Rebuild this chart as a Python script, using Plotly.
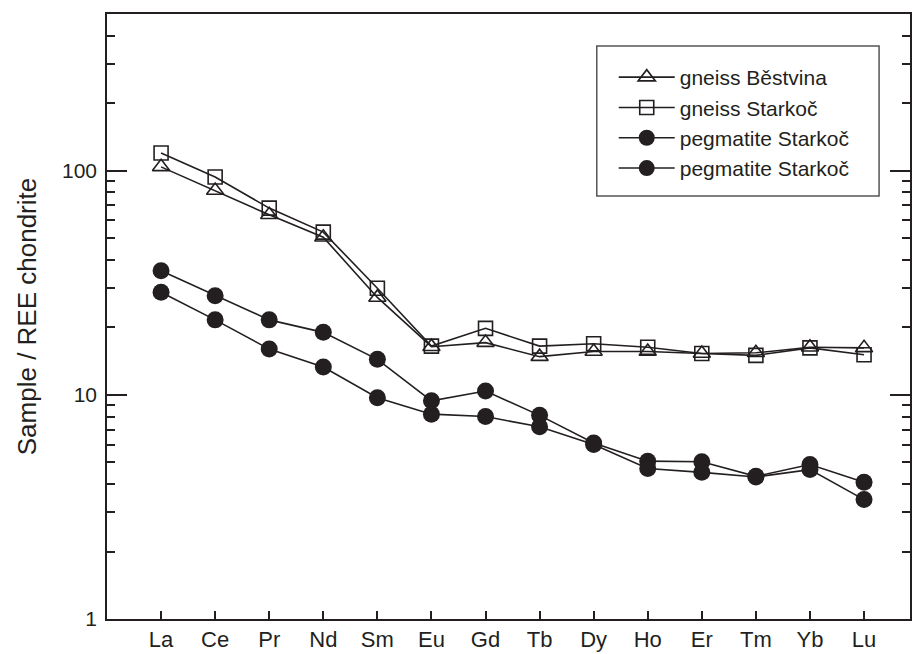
import plotly.graph_objects as go

elements = ["La", "Ce", "Pr", "Nd", "Sm", "Eu", "Gd", "Tb", "Dy", "Ho", "Er", "Tm", "Yb", "Lu"]

gneiss_bestvina = [104, 81.6, 63.6, 50.5, 27.2, 16.4, 17.1, 14.8, 15.6, 15.6, 15.3, 15.4, 16.3, 16.2]
gneiss_starkoc = [120, 93.7, 68.1, 53.2, 29.9, 16.5, 19.8, 16.5, 16.9, 16.3, 15.3, 15.0, 16.2, 15.1]
pegmatite_starkoc_1 = [35.8, 27.7, 21.6, 19.0, 14.4, 9.4, 10.4, 8.1, 6.1, 5.06, 5.03, 4.33, 4.89, 4.07]
pegmatite_starkoc_2 = [28.7, 21.6, 16.0, 13.3, 9.7, 8.2, 8.0, 7.2, 6.0, 4.69, 4.51, 4.30, 4.64, 3.41]

y_tick_vals = [1, 10, 100]
y_tick_text = ["1", "10", "100"]
y_minor_vals = [2, 3, 4, 5, 6, 7, 8, 9, 20, 30, 40, 50, 60, 70, 80, 90, 200, 300, 400]

INK = "#231f20"
FONT = "Liberation Sans, Arial, sans-serif"

W, H = 913, 654
ML, MR, MT, MB = 107, 1, 14, 35
PW, PH = W - ML - MR, H - MT - MB


def px_x(p):
    return (p - ML) / PW


def px_y(p):
    return (H - MB - p) / PH


x_idx = list(range(len(elements)))

fig = go.Figure()

series = [
    ("gneiss Běstvina", gneiss_bestvina, dict(symbol="triangle-up-open", size=15, color=INK, line=dict(width=1.6, color=INK))),
    ("gneiss Starkoč", gneiss_starkoc, dict(symbol="square-open", size=14, color=INK, line=dict(width=1.6, color=INK))),
    ("pegmatite Starkoč", pegmatite_starkoc_1, dict(symbol="circle", size=17, color=INK, line=dict(width=0))),
    ("pegmatite Starkoč", pegmatite_starkoc_2, dict(symbol="circle", size=17, color=INK, line=dict(width=0))),
]

for name, vals, marker in series:
    fig.add_trace(go.Scatter(
        x=x_idx, y=vals, name=name, mode="lines+markers",
        line=dict(color=INK, width=1.6),
        marker=marker,
    ))

# legend frame
fig.add_shape(type="rect", xref="paper", yref="paper",
              x0=px_x(598), x1=px_x(881), y0=px_y(196), y1=px_y(46),
              line=dict(color="#555555", width=1.5), fillcolor="rgba(0,0,0,0)", layer="above")

fig.update_layout(
    width=W, height=H,
    margin=dict(l=ML, r=MR, t=MT, b=MB),
    paper_bgcolor="white", plot_bgcolor="white",
    font=dict(family=FONT, size=20, color=INK),
    showlegend=True,
    legend=dict(
        x=px_x(615), y=px_y(57), xanchor="left", yanchor="top",
        borderwidth=0, bgcolor="rgba(0,0,0,0)",
        font=dict(size=21, family=FONT, color=INK),
        itemsizing="trace", tracegroupgap=0, itemwidth=56,
    ),
)

fig.update_xaxes(
    range=[-1, 13.85],
    tickmode="array", tickvals=x_idx, ticktext=elements,
    ticks="inside", ticklen=8, tickwidth=1.5, tickcolor=INK,
    showline=True, linecolor=INK, linewidth=1.5, mirror=True,
    showgrid=False, zeroline=False,
    tickfont=dict(size=22),
)

fig.update_yaxes(
    type="log", range=[0, 2.69897],
    tickmode="array", tickvals=y_tick_vals, ticktext=y_tick_text,
    ticks="inside", ticklen=20, tickwidth=1.5, tickcolor=INK,
    minor=dict(tickmode="array", tickvals=y_minor_vals, ticks="inside", ticklen=8, tickwidth=1.5, tickcolor=INK, showgrid=False),
    showline=True, linecolor=INK, linewidth=1.5, mirror="ticks",
    showgrid=False, zeroline=False,
    ticklabelstandoff=4,
    title=dict(text="Sample / REE chondrite", font=dict(size=26), standoff=18),
    tickfont=dict(size=21),
)

fig.write_html("out.html")
